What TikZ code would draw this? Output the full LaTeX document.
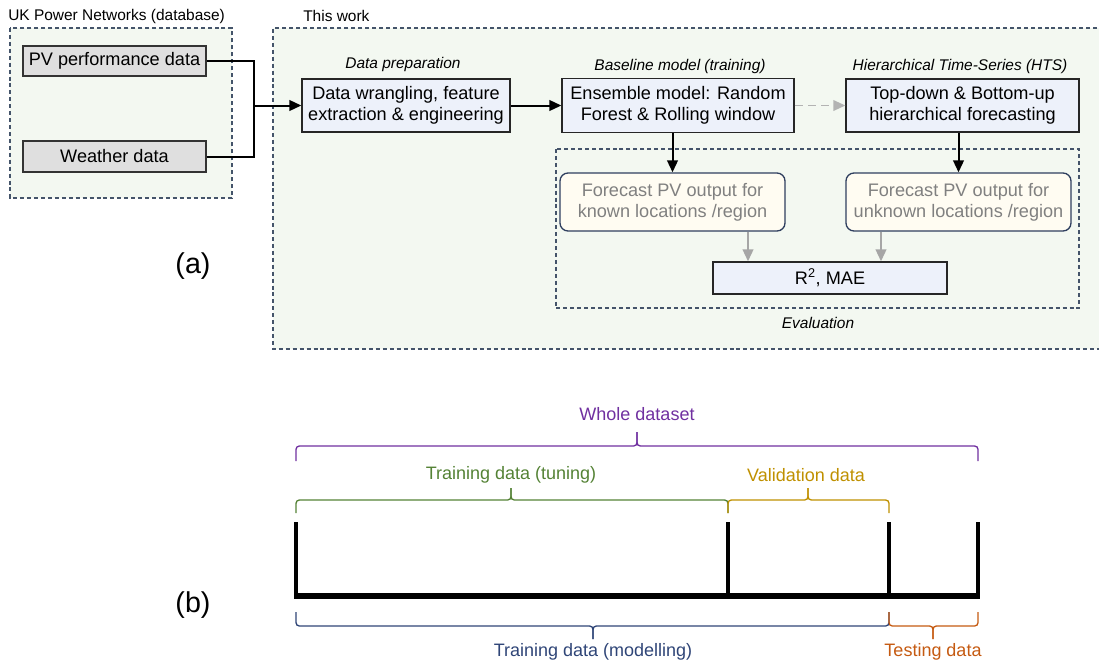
\documentclass[tikz,border=0pt]{standalone}
\usepackage{fontspec}
\setmainfont{Liberation Sans}
\usetikzlibrary{arrows.meta}
\definecolor{grpfill}{HTML}{F3F8F1}
\definecolor{grpdash}{HTML}{44546A}
\definecolor{boxfill}{HTML}{EDF1FA}
\definecolor{greyfill}{HTML}{DFDFDF}
\definecolor{creamfill}{HTML}{FFFCF2}
\definecolor{roundedge}{HTML}{2F3F5F}
\definecolor{fcgray}{HTML}{808080}
\definecolor{arrgray}{HTML}{A6A6A6}
\definecolor{cpurple}{HTML}{7030A0}
\definecolor{cgreen}{HTML}{548235}
\definecolor{cgold}{HTML}{BF9000}
\definecolor{cnavy}{HTML}{2F4577}
\definecolor{corange}{HTML}{C55A11}
\begin{document}
\begin{tikzpicture}[x=0.75pt,y=-0.75pt,
  grp/.style={draw=grpdash, fill=grpfill, line width=0.9pt, dash pattern=on 3pt off 2.2pt},
  evalgrp/.style={draw=grpdash, line width=0.9pt, dash pattern=on 3pt off 2.2pt},
  boxtext/.style={font=\fontsize{13.6}{16}\selectfont, align=center, inner sep=0pt},
  datbox/.style={boxtext, draw=black!80, fill=greyfill, line width=1pt},
  procbox/.style={boxtext, draw=black!85, fill=boxfill, line width=1pt},
  fcbox/.style={boxtext, draw=roundedge, fill=creamfill, text=fcgray, rounded corners=6pt, line width=1pt},
  ttl/.style={font=\fontsize{11.6}{14}\selectfont, inner sep=0pt},
  ital/.style={font=\fontsize{11.6}{14}\selectfont\itshape, inner sep=0pt},
  conn/.style={line width=1.5pt, -{Triangle[length=9pt,width=8pt]}},
  plainconn/.style={line width=1.5pt},
  greyconn/.style={line width=1.5pt, draw=arrgray, -{Triangle[length=9pt,width=8pt]}},
  dashconn/.style={line width=1.2pt, draw=arrgray!85, dash pattern=on 6pt off 4pt, -{Triangle[length=9pt,width=8pt]}},
  brk/.style={line width=1pt, rounded corners=2.5pt},
  brktext/.style={font=\fontsize{13.5}{16}\selectfont, inner sep=0pt},
  panel/.style={font=\fontsize{21.5}{24}\selectfont, inner sep=0pt},
  bar/.style={line width=2.9pt},
]
\useasboundingbox (0,0) rectangle (1099,661);

% group boxes
\draw[grp] (10,28) rectangle (232,198);
\draw[grp] (1104,28) -- (273,28) -- (273,349) -- (1104,349);
\node[ttl, anchor=west] (t1) at (8,16) {UK Power Networks (database)};
\node[ttl, anchor=west] (t2) at (303,16) {This work};

% data boxes
\node[datbox, minimum width=183*0.75pt, minimum height=30*0.75pt] (pv) at (114.5,61) {PV performance data};
\node[datbox, minimum width=183*0.75pt, minimum height=31*0.75pt] (wx) at (114.5,156.5) {Weather data};

% process boxes
\node[procbox, minimum width=208*0.75pt, minimum height=53*0.75pt] (prep) at (406,105.5) {Data wrangling, feature\\extraction \& engineering};
\node[procbox, minimum width=232*0.75pt, minimum height=54*0.75pt] (ens) at (678,105.5) {Ensemble model: Random\\Forest \& Rolling window};
\node[procbox, minimum width=233*0.75pt, minimum height=53*0.75pt] (hts) at (962.5,105.5) {Top-down \& Bottom-up\\hierarchical forecasting};

\node[ital] (l1) at (403,64) {Data preparation};
\node[ital] (l2) at (680,66) {Baseline model (training)};
\node[ital] (l3) at (960,66) {Hierarchical Time-Series (HTS)};

% evaluation group
\draw[evalgrp] (556,149) rectangle (1079,308);
\node[ital] (l4) at (818,323) {Evaluation};

\node[fcbox, minimum width=225*0.75pt, minimum height=58*0.75pt] (known) at (672.5,202) {Forecast PV output for\\known locations /region};
\node[fcbox, minimum width=225*0.75pt, minimum height=58*0.75pt] (unknown) at (958.5,202) {Forecast PV output for\\unknown locations /region};
\node[procbox, minimum width=234*0.75pt, minimum height=32*0.75pt] (r2) at (830,278) {R\textsuperscript{2}, MAE};

% connectors
\coordinate (j) at (254,105.5);
\draw[plainconn] (pv.east) -| (j);
\draw[plainconn] (wx.east) -| (j);
\draw[conn] (j) -- (prep.west);
\draw[conn] (prep.east) -- (ens.west);
\draw[dashconn] (ens.east) -- (hts.west);
\draw[conn] (known.north |- ens.south) -- (known.north);
\draw[conn] (unknown.north |- hts.south) -- (unknown.north);
\coordinate (ga) at (748,0);
\coordinate (gb) at (881,0);
\draw[greyconn] (ga |- known.south) -- (ga |- r2.north);
\draw[greyconn] (gb |- unknown.south) -- (gb |- r2.north);

% panel labels
\node[panel] (pa) at (193,266) {(a)};
\node[panel] (pb) at (193,605) {(b)};

% bars
\draw[bar] (296,522) -- (296,597);
\draw[bar] (728,522) -- (728,597);
\draw[bar] (889,522) -- (889,597);
\draw[bar] (978,522) -- (978,597);
\draw[line width=3.8pt] (294,596) -- (980,596);

% brackets above
\draw[brk, cpurple] (296,461) -- (296,446) -- (637,446) -- (637,432);
\draw[brk, cpurple] (637,432) -- (637,446) -- (978,446) -- (978,461);
\node[brktext, text=cpurple] (whole) at (637,414) {Whole dataset};

\draw[brk, cgreen] (296,513) -- (296,500) -- (511,500) -- (511,488);
\draw[brk, cgreen] (511,488) -- (511,500) -- (728,500) -- (728,513);
\node[brktext, text=cgreen] (tune) at (511,475) {Training data (tuning)};

\draw[brk, cgold] (728,513) -- (728,500) -- (808,500) -- (808,488);
\draw[brk, cgold] (808,488) -- (808,500) -- (889,500) -- (889,513);
\node[brktext, text=cgold] (valid) at (806,475) {Validation data};

% brackets below
\draw[brk, cnavy] (296,612) -- (296,626) -- (593,626) -- (593,639);
\draw[brk, cnavy] (593,639) -- (593,626) -- (889,626) -- (889,612);
\node[brktext, text=cnavy] (model) at (593,652) {Training data (modelling)};

\draw[brk, corange] (889,612) -- (889,626) -- (933,626) -- (933,639);
\draw[brk, corange] (933,639) -- (933,626) -- (978,626) -- (978,612);
\node[brktext, text=corange] (test) at (933,652) {Testing data};
\end{tikzpicture}
\end{document}
